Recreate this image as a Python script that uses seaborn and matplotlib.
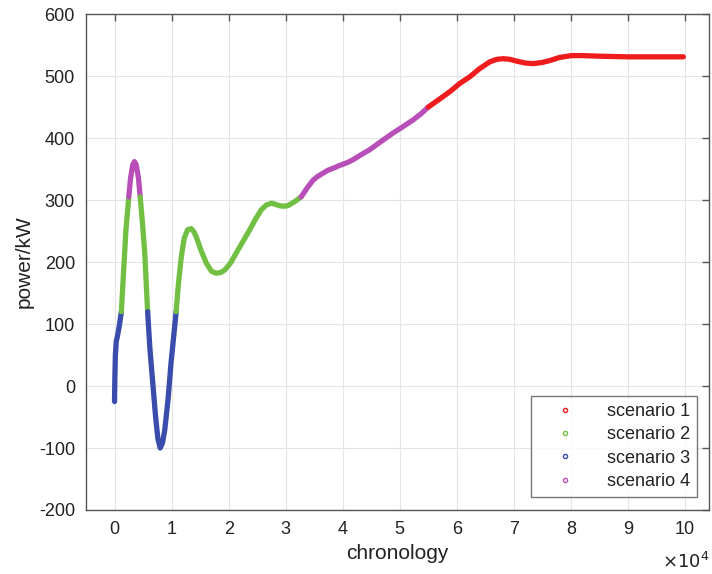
import matplotlib
matplotlib.use("Agg")
import matplotlib.pyplot as plt
from matplotlib.lines import Line2D
import pandas as pd
import seaborn as sns

# curve, x in units of 1e4, split by scenario segment
seg_blue1_x = [0.00, 0.005, 0.015, 0.03, 0.05, 0.08, 0.12]
seg_blue1_y = [-25, 10, 50, 72, 80, 95, 120]
seg_green1_x = [0.12, 0.15, 0.20, 0.25]
seg_green1_y = [120, 170, 252, 305]
seg_mag1_x = [0.25, 0.28, 0.32, 0.35, 0.38, 0.42, 0.45]
seg_mag1_y = [305, 335, 357, 362, 357, 335, 305]
seg_green2_x = [0.45, 0.49, 0.53, 0.58]
seg_green2_y = [305, 262, 214, 120]
seg_blue2_x = [0.58, 0.62, 0.67, 0.72, 0.76, 0.80, 0.84, 0.88, 0.94, 0.99, 1.08]
seg_blue2_y = [120, 60, 5, -50, -85, -100, -92, -71, -20, 37, 120]
seg_green3_x = [1.08, 1.12, 1.17, 1.22, 1.28, 1.34, 1.39, 1.43, 1.52, 1.61,
                1.70, 1.78, 1.86, 1.93, 2.03, 2.13, 2.25, 2.37, 2.47, 2.57,
                2.66, 2.75, 2.82, 2.89, 2.96, 3.04, 3.15, 3.27]
seg_green3_y = [120, 165, 208, 238, 252, 254, 249, 241, 218, 198,
                185, 182, 183, 187, 198, 214, 233, 252, 269, 284,
                292, 295, 293, 291, 290, 291, 297, 305]
seg_mag2_x = [3.27, 3.38, 3.48, 3.56, 3.63, 3.74, 3.85, 3.95, 4.07, 4.18,
              4.32, 4.47, 4.68, 4.88, 5.05, 5.23, 5.37, 5.50]
seg_mag2_y = [305, 320, 332, 338, 342, 348, 352, 356, 360, 365,
              373, 381, 395, 408, 418, 429, 439, 450]
seg_red_x = [5.50, 5.70, 5.88, 6.05, 6.23, 6.40, 6.58, 6.70, 6.81, 6.93,
             7.05, 7.20, 7.34, 7.50, 7.63, 7.80, 8.01, 8.20, 8.51, 9.00, 9.97]
seg_red_y = [450, 463, 475, 488, 499, 512, 523, 527, 528, 527,
             524, 521, 520, 522, 525, 530, 533, 533, 532, 531, 531]

scenario_names = ["scenario 1", "scenario 2", "scenario 3", "scenario 4"]
scenario_colors = ["#ee1c1c", "#72c043", "#3a4cac", "#b84fb8"]

segments = [
    (seg_blue1_x, seg_blue1_y, 2),
    (seg_green1_x, seg_green1_y, 1),
    (seg_mag1_x, seg_mag1_y, 3),
    (seg_green2_x, seg_green2_y, 1),
    (seg_blue2_x, seg_blue2_y, 2),
    (seg_green3_x, seg_green3_y, 1),
    (seg_mag2_x, seg_mag2_y, 3),
    (seg_red_x, seg_red_y, 0),
]

sns.set_style("white")
plt.rcParams["font.family"] = ["Liberation Sans", "DejaVu Sans"]
plt.rcParams["axes.unicode_minus"] = False

fig = plt.figure(figsize=(7.12, 5.74), dpi=100)
ax = fig.add_axes([0.1208, 0.1115, 0.875, 0.864])

for xs, ys, k in segments:
    df = pd.DataFrame({"x": xs, "y": ys})
    sns.lineplot(data=df, x="x", y="y", ax=ax, color=scenario_colors[k],
                 linewidth=3.8, sort=False, estimator=None,
                 solid_capstyle="round", solid_joinstyle="round")

ax.set_xlim(-0.5, 10.42)
ax.set_ylim(-200, 600)
ax.set_xticks(range(0, 11))
ax.set_yticks(range(-200, 601, 100))
ax.grid(True, color="#e4e4e4", linewidth=0.8)
ax.set_axisbelow(True)
for s in ax.spines.values():
    s.set_color("#555555")
    s.set_linewidth(1.0)
ax.tick_params(direction="in", length=5, width=1, color="#555555",
               labelsize=13, labelcolor="#222222", top=True, right=True,
               labeltop=False, labelright=False, pad=8)
ax.set_xlabel("chronology", fontsize=15, color="#222222", labelpad=4)
ax.set_ylabel("power/kW", fontsize=15, color="#222222", labelpad=4)
ax.text(1.0, -0.085, r"$\times10^4$", transform=ax.transAxes, ha="right",
        va="top", fontsize=13, color="#222222")

handles = [Line2D([], [], marker="o", linestyle="", markersize=3,
                  markerfacecolor="none", markeredgecolor=c, label=n)
           for n, c in zip(scenario_names, scenario_colors)]
leg = ax.legend(handles=handles, loc="lower right", fontsize=13,
                frameon=True, fancybox=False, edgecolor="#555555",
                handlelength=3.0, borderpad=0.4, labelspacing=0.35,
                borderaxespad=0, bbox_to_anchor=(0.981, 0.026))
leg.get_frame().set_linewidth(1.0)
for t in leg.get_texts():
    t.set_color("#222222")

fig.savefig("out.png", dpi=100)
